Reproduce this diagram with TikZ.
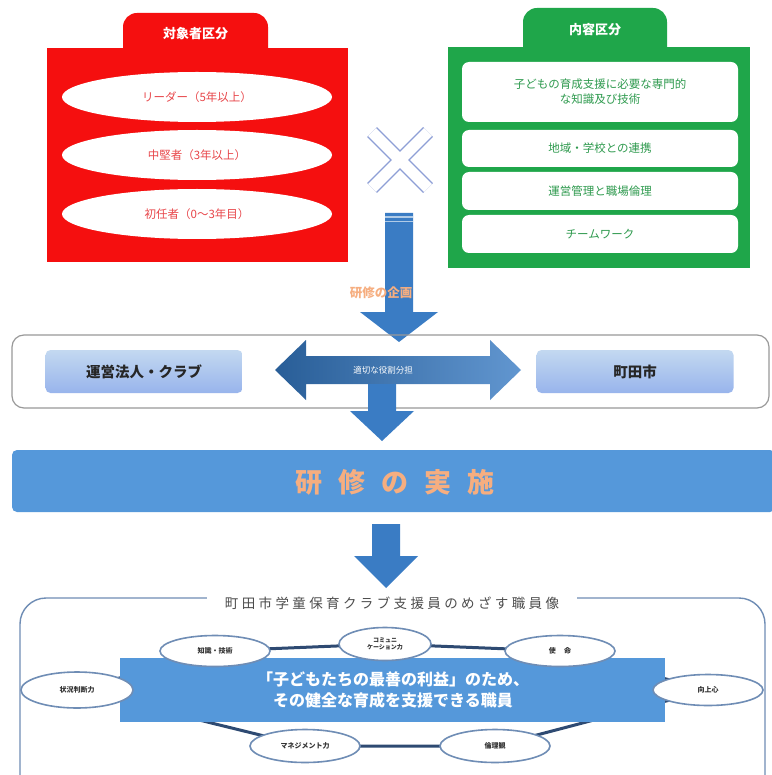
\documentclass[tikz,border=0pt]{standalone}
\usepackage{fontspec}
\setmainfont{Noto Sans CJK JP}
\newfontfamily\jp{Noto Sans CJK JP}
\usetikzlibrary{shapes.geometric}
\definecolor{redbox}{HTML}{F50F0F}
\definecolor{redtxt}{HTML}{E8464A}
\definecolor{greenbox}{HTML}{1FA64A}
\definecolor{greentxt}{HTML}{2E9A4E}
\definecolor{arrowblue}{HTML}{3A7CC4}
\definecolor{arrowdark}{HTML}{2D68A8}
\definecolor{barblue}{HTML}{5598DA}
\definecolor{lightbox}{HTML}{A9C8EA}
\definecolor{orangetxt}{HTML}{F6AE80}
\definecolor{ringline}{HTML}{2E4A72}
\definecolor{ellline}{HTML}{6F8DB5}
\definecolor{xline}{HTML}{8E9FD6}
\tikzset{
  tablabel/.style={text=white,font=\jp\bfseries\fontsize{13}{15}\selectfont},
  redell/.style={ellipse,fill=white,minimum width=270,minimum height=50,inner sep=0,
    text=redtxt,font=\jp\fontsize{11.5}{13}\selectfont},
  greenitem/.style={rectangle,rounded corners=7,fill=white,minimum width=276,inner sep=0,
    text=greentxt,font=\jp\fontsize{11.5}{15}\selectfont,align=center},
  sidebox/.style={rectangle,rounded corners=5,top color=lightbox!70!white,bottom color=lightbox!90!blue,
    minimum width=197,minimum height=43,font=\jp\bfseries\fontsize{14.5}{16}\selectfont,text=black!85},
  ringell/.style={ellipse,draw=ellline,line width=1.6,fill=white,minimum width=110,minimum height=31,
    inner sep=0,font=\jp\bfseries\fontsize{7}{8}\selectfont,text=black!80,align=center},
  ringedge/.style={draw=ringline,line width=3},
}
\begin{document}
\begin{tikzpicture}[x=1pt,y=-1pt,font=\jp]
\useasboundingbox (0,0) rectangle (771,775);
\fill[white] (0,0) rectangle (771,775);

% ---------- red box ----------
\fill[redbox,rounded corners=14] (123,70) rectangle (268,13);
\fill[redbox] (47,48) rectangle (348,262);
\node[tablabel] (redtab) at (195.5,34) {対象者区分};
\node[redell] (r1) at (197,97) {リーダー（5年以上）};
\node[redell] (r2) at (197,155) {中堅者（3年以上）};
\node[redell] (r3) at (197,214) {初任者（0～3年目）};

% ---------- green box ----------
\fill[greenbox,rounded corners=14] (523,70) rectangle (667,8);
\fill[greenbox] (448,47) rectangle (750,268);
\node[tablabel] (greentab) at (595,30) {内容区分};
\node[greenitem,minimum height=60] (g1) at (600,92) {子どもの育成支援に必要な専門的\\な知識及び技術};
\node[greenitem,minimum height=37] (g2) at (600,148.5) {地域・学校との連携};
\node[greenitem,minimum height=38] (g3) at (600,191) {運営管理と職場倫理};
\node[greenitem,minimum height=38] (g4) at (600,234) {チームワーク};

% ---------- cross ----------
\coordinate (xa) at (372,132);
\coordinate (xb) at (428,188);
\coordinate (xc) at (428,132);
\coordinate (xd) at (372,188);
\draw[xline,line width=14] (xa) -- (xb) (xc) -- (xd);
\draw[white,line width=11.2] (xa) -- (xb) (xc) -- (xd);

% ---------- arrow 1 ----------
\fill[arrowblue] (385,213) -- (413,213) -- (413,312) -- (438,312) -- (399,342) -- (360,312) -- (385,312) -- cycle;
\fill[white!60!arrowblue] (385,216) rectangle (413,218);
\fill[white!60!arrowblue] (385,221) rectangle (413,222.5);
\node[text=orangetxt,font=\jp\bfseries\fontsize{12.5}{14}\selectfont] (plan) at (381,293) {研修の企画};

% ---------- middle row ----------
\draw[black!40,line width=1.2,rounded corners=12] (12,335) rectangle (769,408);
\node[sidebox] (club) at (144,371.5) {運営法人・クラブ};
\node[sidebox] (city) at (635,371.5) {町田市};
\shade[left color=arrowdark!90!black,right color=arrowblue!80!white]
  (275,370) -- (306,340) -- (306,356) -- (490,356) -- (490,340) -- (521,370)
  -- (490,400) -- (490,384) -- (306,384) -- (306,400) -- cycle;
\fill[arrowblue] (368,384) -- (396,384) -- (396,411) -- (414,411) -- (382,441) -- (350,411) -- (368,411) -- cycle;
\node[text=white,font=\jp\fontsize{8.5}{9}\selectfont] (share) at (383,370) {適切な役割分担};

% ---------- implementation bar ----------
\fill[barblue,rounded corners=5] (12,450) rectangle (775,512);
\node[text=orangetxt,font=\jp\bfseries\fontsize{27}{30}\selectfont] (impl) at (395,482) {研\hspace{0.6em}修\hspace{0.6em}の\hspace{0.6em}実\hspace{0.6em}施};

% ---------- arrow 3 ----------
\fill[arrowblue] (372,524) -- (400,524) -- (400,556) -- (418,556) -- (386,588) -- (354,556) -- (372,556) -- cycle;

% ---------- bottom container ----------
\draw[ellline,line width=1.4,rounded corners=26] (20,800) -- (20,598) -- (765,598) -- (765,800);
\node[fill=white,inner xsep=18,inner ysep=2,text=black!70,font=\jp\fontsize{13.5}{15}\selectfont] (goal) at (392,603)
  {\addfontfeatures{LetterSpace=25}町田市学童保育クラブ支援員のめざす職員像};

% ring
\coordinate (pk) at (215,651);
\coordinate (pc) at (385,644);
\coordinate (ps) at (560,651);
\coordinate (pm) at (708,690);
\coordinate (pe) at (495,746);
\coordinate (pn) at (305,746);
\coordinate (pj) at (77,690);
\draw[ringedge] (pj) -- (pk) -- (pc) -- (ps) -- (pm) -- (pe) -- (pn) -- (pj);

\fill[barblue] (120,658) rectangle (665,722);
\node[text=white,font=\jp\bfseries\fontsize{16}{21}\selectfont,align=center] (ideal) at (393,690)
  {「子どもたちの最善の利益」のため、\\その健全な育成を支援できる職員};

\node[ringell] (k) at (pk) {知識・技術};
\node[ringell,minimum width=92,minimum height=33,font=\jp\bfseries\fontsize{6}{7}\selectfont] (c) at (pc) {コミュニ\\ケーション力};
\node[ringell] (s) at (ps) {使\hspace{1.2em}命};
\node[ringell] (m) at (pm) {向上心};
\node[ringell,minimum height=33] (e) at (pe) {倫理観};
\node[ringell,minimum height=33] (n) at (pn) {マネジメント力};
\node[ringell,minimum width=112,minimum height=36] (j) at (pj) {状況判断力};
\end{tikzpicture}
\end{document}
